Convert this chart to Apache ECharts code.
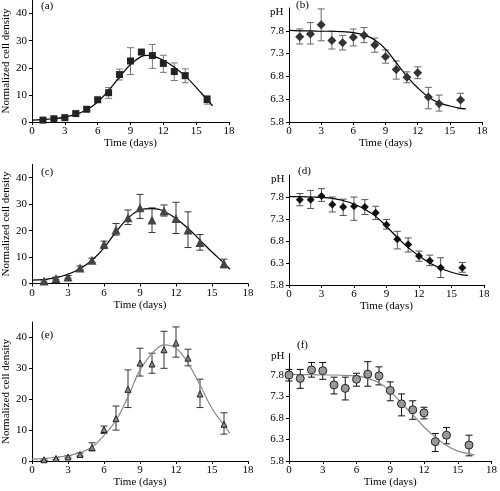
<!DOCTYPE html>
<html><head><meta charset="utf-8">
<script src="https://cdn.jsdelivr.net/npm/echarts@6/dist/echarts.min.js"></script>
<style>html,body{margin:0;padding:0;background:#fff}#c{width:500px;height:491px}</style>
</head><body><div id="c"></div>
<script>
// ---- data ----
const daysA = [1,2,3,4,5,6,7,8,9,10,11,12,13,14,16];
const densA = [0.7,1.2,1.6,3.1,4.7,8.2,10.8,17.5,22.5,25.8,24.5,21.6,18.6,17.1,8.3];
const densA_hi = [0.9,1.5,2.0,3.6,5.4,9.0,12.7,19.5,27.4,26.6,28.6,24.6,21.8,19.6,9.8];
const densA_lo = [0.5,0.9,1.2,2.6,4.0,7.4,8.7,15.5,17.5,25.0,19.8,18.3,15.3,14.5,6.6];
const fitX = [0,1,2,3,4,5,6,7,8,9,10,10.5,11,12,13,14,15,16,16.5];
const fitA = [0.7,0.9,1.2,1.8,2.8,4.5,7.4,11.6,16.6,21.2,24.2,24.6,24.4,22.8,20.2,16.9,12.8,8.2,6.0];

const daysB = [1,2,3,4,5,6,7,8,9,10,11,12,13,14,16];
const phB = [7.67,7.73,7.93,7.59,7.54,7.66,7.70,7.49,7.23,6.95,6.78,6.88,6.35,6.20,6.28];
const phB_hi = [7.84,7.98,8.28,7.79,7.70,7.84,7.87,7.64,7.38,7.14,6.90,7.01,6.56,6.39,6.43];
const phB_lo = [7.51,7.51,7.58,7.40,7.38,7.47,7.54,7.33,7.09,6.74,6.66,6.75,6.09,6.04,6.09];
const fitB = [7.81,7.80,7.80,7.79,7.79,7.78,7.76,7.71,7.60,7.40,7.10,6.95,6.80,6.55,6.35,6.22,6.15,6.10,6.09];

const daysC = [1,2,3,4,5,6,7,8,9,10,11,12,13,14,16];
const densC = [0.9,1.9,2.5,5.9,8.8,14.8,20.2,24.9,28.6,24.0,27.4,24.6,20.2,15.5,7.6];
const densC_hi = [1.4,2.4,3.0,6.6,9.6,16.0,22.7,27.8,33.7,28.6,29.7,30.7,27.1,18.5,9.2];
const densC_lo = [0.5,1.4,2.0,5.2,8.0,13.2,18.3,22.3,24.6,19.3,25.5,18.9,13.6,12.6,5.9];
const fitC = [1.3,1.5,2.2,3.5,5.6,8.8,13.5,19.5,24.7,27.8,28.3,28.1,27.3,24.6,20.9,16.4,11.9,7.7,5.4];

const daysD = [1,2,3,4,5,6,7,8,9,10,11,12,13,14,16];
const phD = [7.74,7.74,7.82,7.63,7.57,7.59,7.57,7.44,7.17,6.84,6.72,6.46,6.35,6.19,6.19];
const phD_hi = [7.88,7.95,7.99,7.80,7.75,7.80,7.74,7.59,7.29,7.02,6.87,6.57,6.48,6.42,6.31];
const phD_lo = [7.60,7.54,7.70,7.46,7.38,7.27,7.40,7.29,7.07,6.62,6.55,6.34,6.24,5.97,6.09];
const fitD = [7.81,7.81,7.80,7.79,7.77,7.72,7.64,7.52,7.36,7.13,6.88,6.76,6.65,6.46,6.30,6.18,6.09,6.03,6.02];

const daysE = [1,2,3,4,5,6,7,8,9,10,11,12,13,14,16];
const densE = [0.4,0.8,1.3,2.1,4.3,10.2,13.7,23.2,31.7,31.4,36.0,38.2,33.3,21.7,11.9];
const densE_hi = [0.7,1.1,1.7,2.6,5.9,11.3,17.8,29.5,36.5,34.9,42.0,43.4,36.2,26.5,15.6];
const densE_lo = [0.2,0.5,1.0,1.6,3.3,8.9,10.0,17.3,27.5,28.4,30.0,33.6,30.8,17.3,8.7];
const fitE = [0.6,0.8,1.2,1.7,2.7,4.5,8.3,13.2,20.8,29.5,34.9,36.7,37.6,36.5,31.7,24.6,17.0,11.6,8.9];

const daysF = [0,1,2,3,4,5,6,7,8,9,10,11,12,13,14,16];
const phF = [7.80,7.72,7.92,7.90,7.57,7.49,7.70,7.82,7.78,7.44,7.13,6.99,6.92,6.25,6.40,6.17];
const phF_hi = [7.93,7.93,8.09,8.09,7.75,7.75,7.84,8.11,7.99,7.64,7.36,7.20,7.05,6.44,6.58,6.40];
const phF_lo = [7.66,7.49,7.75,7.70,7.36,7.22,7.54,7.54,7.57,7.20,6.85,6.77,6.78,6.02,6.20,5.92];
const fitF = [7.82,7.81,7.81,7.80,7.80,7.79,7.78,7.72,7.62,7.42,7.15,7.01,6.88,6.59,6.36,6.16,6.03,5.97,5.94];

const densTicks = [0,10,20,30,40];
const phTicks = [5.8,6.3,6.8,7.3,7.8];
const xTicksMax = 18;

// ---- layout ----
const FONT = 'Liberation Serif';
const grids = [
  {left:32, top:0, width:197, height:122},
  {left:289, top:8, width:193, height:114},
  {left:32, top:164.5, width:216, height:119},
  {left:289, top:175, width:195, height:110},
  {left:32, top:322, width:216, height:139},
  {left:289, top:353.5, width:207, height:107.5}
];

function xAxis(i){
  return {gridIndex:i, type:'value', min:0, max:xTicksMax, interval:3,
    name:'Time (days)', nameLocation:'middle', nameGap:15,
    nameTextStyle:{fontFamily:FONT, fontSize:11, color:'#000'},
    axisLine:{lineStyle:{color:'#000', width:1}},
    axisTick:{show:true, length:3, lineStyle:{color:'#000'}},
    axisLabel:{fontFamily:FONT, fontSize:11, color:'#000', margin:4},
    splitLine:{show:false}};
}
function yAxisDens(i){
  return {gridIndex:i, type:'value', min:0, max:45,
    name:'Normalized cell density', nameLocation:'middle', nameGap:19,
    nameTextStyle:{fontFamily:FONT, fontSize:11, color:'#000'},
    axisLine:{show:true, lineStyle:{color:'#000', width:1}},
    axisTick:{show:true, length:3, customValues:densTicks, lineStyle:{color:'#000'}},
    axisLabel:{fontFamily:FONT, fontSize:11, color:'#000', margin:5, customValues:densTicks},
    splitLine:{show:false}};
}
function yAxisPh(i){
  return {gridIndex:i, type:'value', min:5.8, max:8.3,
    axisLine:{show:true, lineStyle:{color:'#000', width:1}},
    axisTick:{show:true, length:3, customValues:phTicks, lineStyle:{color:'#000'}},
    axisLabel:{fontFamily:FONT, fontSize:11, color:'#000', margin:5, customValues:phTicks,
      formatter:v=>Number(v).toFixed(1)},
    splitLine:{show:false}};
}

function errSeries(i, xs, lo, hi, color){
  return {type:'custom', xAxisIndex:i, yAxisIndex:i, z:2, clip:false,
    data: xs.map((x,k)=>[x, lo[k], hi[k]]),
    encode:{x:0, y:[1,2]},
    renderItem:function(params, api){
      const x = api.value(0);
      const p1 = api.coord([x, api.value(1)]);
      const p2 = api.coord([x, api.value(2)]);
      const w = 3.5;
      const st = {stroke:color, lineWidth:1};
      return {type:'group', children:[
        {type:'line', shape:{x1:p1[0],y1:p1[1],x2:p2[0],y2:p2[1]}, style:st},
        {type:'line', shape:{x1:p1[0]-w,y1:p1[1],x2:p1[0]+w,y2:p1[1]}, style:st},
        {type:'line', shape:{x1:p2[0]-w,y1:p2[1],x2:p2[0]+w,y2:p2[1]}, style:st}
      ]};
    }};
}
function ptSeries(i, xs, ys, symbol, size, fill, border){
  return {type:'scatter', xAxisIndex:i, yAxisIndex:i, z:4, symbol:symbol, symbolSize:size,
    data: xs.map((x,k)=>[x, ys[k]]),
    itemStyle:{color:fill, borderColor:border, borderWidth:border?1:0, opacity:1},
    emphasis:{disabled:true}};
}
function fitSeries(i, ys, color){
  return {type:'line', xAxisIndex:i, yAxisIndex:i, z:3, smooth:0.4, symbol:'none',
    data: fitX.map((x,k)=>[x, ys[k]]),
    lineStyle:{color:color, width:1.2}};
}

const series = [
  errSeries(0, daysA, densA_lo, densA_hi, '#777'),
  fitSeries(0, fitA, '#000'),
  ptSeries(0, daysA, densA, 'rect', 7, '#222', null),

  errSeries(1, daysB, phB_lo, phB_hi, '#666'),
  fitSeries(1, fitB, '#000'),
  ptSeries(1, daysB, phB, 'diamond', 9, '#333', null),

  errSeries(2, daysC, densC_lo, densC_hi, '#333'),
  fitSeries(2, fitC, '#000'),
  ptSeries(2, daysC, densC, 'triangle', 9, '#444', null),

  errSeries(3, daysD, phD_lo, phD_hi, '#555'),
  fitSeries(3, fitD, '#000'),
  ptSeries(3, daysD, phD, 'diamond', 8, '#111', null),

  errSeries(4, daysE, densE_lo, densE_hi, '#333'),
  fitSeries(4, fitE, '#888'),
  ptSeries(4, daysE, densE, 'triangle', 6, '#888', '#222'),

  errSeries(5, daysF, phF_lo, phF_hi, '#111'),
  fitSeries(5, fitF, '#888'),
  ptSeries(5, daysF, phF, 'circle', 8, '#999', '#222')
];

const panelLabels = [
  {t:'(a)', x:41, y:1}, {t:'(b)', x:296, y:0},
  {t:'(c)', x:41, y:167}, {t:'(d)', x:298, y:166},
  {t:'(e)', x:41, y:330}, {t:'(f)', x:297, y:340}
];
const phLabels = [{x:270, y:7}, {x:271, y:174}, {x:271, y:351}];

const graphic = [];
panelLabels.forEach(p=>graphic.push({type:'text', left:p.x, top:p.y, z:10,
  style:{text:p.t, font:'11px "'+FONT+'"', fill:'#000'}}));
phLabels.forEach(p=>graphic.push({type:'text', left:p.x, top:p.y, z:10,
  style:{text:'pH', font:'11px "'+FONT+'"', fill:'#000'}}));

const chart = echarts.init(document.getElementById('c'), null, {renderer:'canvas'});
chart.setOption({
  backgroundColor:'#fff',
  animation:false,
  grid: grids,
  xAxis: [0,1,2,3,4,5].map(xAxis),
  yAxis: [yAxisDens(0), yAxisPh(1), yAxisDens(2), yAxisPh(3), yAxisDens(4), yAxisPh(5)],
  series: series,
  graphic: graphic
});
</script>
</body></html>
